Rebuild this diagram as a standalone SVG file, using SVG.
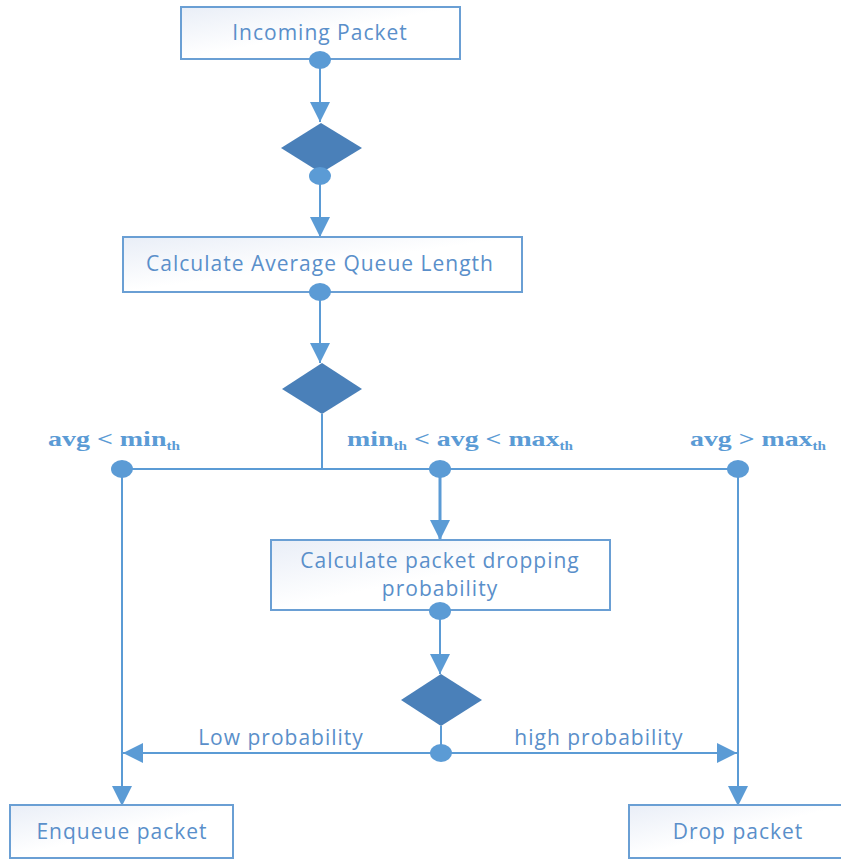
<svg xmlns="http://www.w3.org/2000/svg" width="841" height="861" viewBox="0 0 841 861">
<defs>
<linearGradient id="bg" x1="0" y1="0" x2="1" y2="1">
<stop offset="0" stop-color="#e9eef7"/>
<stop offset="0.5" stop-color="#ffffff"/>
<stop offset="1" stop-color="#ffffff"/>
</linearGradient>
<marker id="ah" viewBox="0 0 20 20" refX="20" refY="10" markerWidth="20" markerHeight="20" markerUnits="userSpaceOnUse" orient="auto">
<path d="M0,0 L20,10 L0,20 Z" fill="#5b9bd5"/>
</marker>
</defs>
<style>
.box{fill:url(#bg);stroke:#6a9fd4;stroke-width:2}
.t{font-family:"Open Sans","Liberation Sans",sans-serif;font-size:21px;letter-spacing:1px;fill:#5a8fca;text-anchor:middle}
.c{font-family:"Liberation Serif","DejaVu Serif",serif;font-weight:bold;font-size:22px;fill:#5b9bd5}
.sub{font-size:12px}
.dia{fill:#4a80b9}
.ln{stroke:#5b9bd5;stroke-width:2;fill:none}
.dot{fill:#5b9bd5}
</style>
<rect width="841" height="861" fill="#ffffff"/>
<g id="connectors">
<line class="ln" x1="320" y1="60" x2="320" y2="122" marker-end="url(#ah)"/>
<line class="ln" x1="320" y1="176" x2="320" y2="237" marker-end="url(#ah)"/>
<line class="ln" x1="320" y1="292" x2="320" y2="363" marker-end="url(#ah)"/>
<line class="ln" x1="322" y1="414" x2="322" y2="469"/>
<line class="ln" x1="122" y1="469" x2="738" y2="469"/>
<line class="ln" x1="122" y1="469" x2="122" y2="806" marker-end="url(#ah)"/>
<line class="ln" x1="738" y1="469" x2="738" y2="806" marker-end="url(#ah)"/>
<line class="ln" style="stroke-width:3" x1="440" y1="469" x2="440" y2="540" marker-end="url(#ah)"/>
<line class="ln" x1="440" y1="611" x2="440" y2="674" marker-end="url(#ah)"/>
<line class="ln" x1="441" y1="726" x2="441" y2="753"/>
<line class="ln" x1="441" y1="753" x2="123" y2="753" marker-end="url(#ah)"/>
<line class="ln" x1="441" y1="753" x2="737" y2="753" marker-end="url(#ah)"/>
<text class="t" x="281" y="745">Low probability</text>
<text class="t" x="599" y="745">high probability</text>
<text class="c" x="48" y="446" textLength="132" lengthAdjust="spacingAndGlyphs">avg &lt; min<tspan class="sub" dy="4">th</tspan></text>
<text class="c" x="347" y="446" textLength="226" lengthAdjust="spacingAndGlyphs">min<tspan class="sub" dy="4">th</tspan><tspan dy="-4"> &lt; avg &lt; max</tspan><tspan class="sub" dy="4">th</tspan></text>
<text class="c" x="690" y="446" textLength="136" lengthAdjust="spacingAndGlyphs">avg &gt; max<tspan class="sub" dy="4">th</tspan></text>
</g>
<g id="incoming">
<rect class="box" x="181" y="7" width="279" height="52"/>
<text class="t" x="320" y="40">Incoming Packet</text>
<ellipse class="dot" cx="320" cy="60" rx="11" ry="9"/>
</g>
<g id="decision1">
<polygon class="dia" points="321,123 362,148 321,173 281,148"/>
<ellipse class="dot" cx="320" cy="176" rx="11" ry="9"/>
</g>
<g id="avgqueue">
<rect class="box" x="123" y="237" width="399" height="55"/>
<text class="t" x="320" y="271">Calculate Average Queue Length</text>
<ellipse class="dot" cx="320" cy="292" rx="11" ry="9"/>
</g>
<g id="decision2">
<polygon class="dia" points="322,363 362,389 322,414 282,389"/>
<ellipse class="dot" cx="122" cy="469" rx="11" ry="9"/>
<ellipse class="dot" cx="440" cy="469" rx="11" ry="9"/>
<ellipse class="dot" cx="738" cy="469" rx="11" ry="9"/>
</g>
<g id="dropprob">
<rect class="box" x="271" y="540" width="339" height="70"/>
<text class="t" x="440" y="568">Calculate packet dropping</text>
<text class="t" x="440" y="596">probability</text>
<ellipse class="dot" cx="440" cy="611" rx="11" ry="9"/>
</g>
<g id="decision3">
<polygon class="dia" points="441,674 482,700 441,726 401,700"/>
<ellipse class="dot" cx="441" cy="753" rx="11" ry="9"/>
</g>
<g id="enqueue">
<rect class="box" x="10" y="805" width="223" height="53"/>
<text class="t" x="122" y="839">Enqueue packet</text>
</g>
<g id="drop">
<rect class="box" x="629" y="805" width="220" height="53"/>
<text class="t" x="738" y="839">Drop packet</text>
</g>
</svg>
